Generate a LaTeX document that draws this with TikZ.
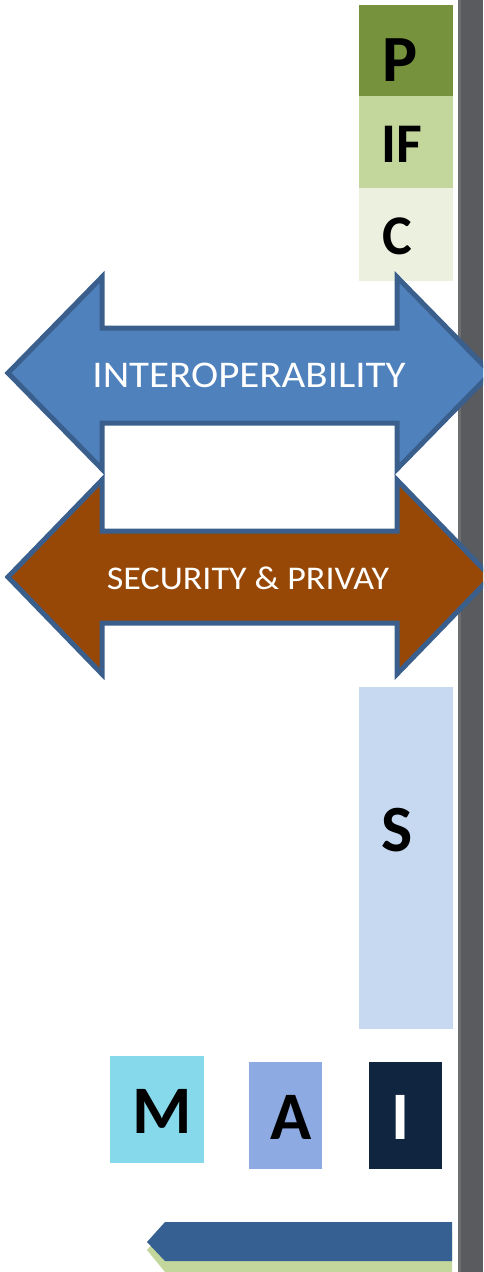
\documentclass[tikz,border=0pt]{standalone}
\usepackage{fontspec}
\setmainfont{Carlito}
\definecolor{pGreen}{HTML}{76923C}
\definecolor{ifGreen}{HTML}{C3D69B}
\definecolor{cGreen}{HTML}{EBF1DE}
\definecolor{sBlue}{HTML}{C6D9F1}
\definecolor{mCyan}{HTML}{86D9EA}
\definecolor{aBlue}{HTML}{8EAAE2}
\definecolor{iNavy}{HTML}{10253F}
\definecolor{arrowBlue}{HTML}{4F81BD}
\definecolor{arrowEdge}{HTML}{3A5F8D}
\definecolor{arrowBrown}{HTML}{974806}
\definecolor{tabBlue}{HTML}{366092}
\definecolor{barGray}{HTML}{595B5E}
\definecolor{barEdge}{HTML}{6C6E70}
\begin{document}
\begin{tikzpicture}[x=1pt,y=-1pt,
  box/.style={anchor=north west,inner sep=0pt,outer sep=0pt},
  letter/.style={anchor=base,inner sep=0pt,font=\fontsize{#1}{#1}\selectfont\bfseries},
  letter/.default=68,
  dblarrow/.style={line width=5pt,draw=arrowEdge,line join=miter},
  arrowtext/.style={text=white,inner sep=0pt,font=\fontsize{#1}{#1}\selectfont}]
\useasboundingbox (0,0) rectangle (483,1272);
\clip (0,0) rectangle (483,1272);

% page edge on the right
\fill[barGray] (458,0) rectangle (483,1272);
\fill[barEdge] (458,0) rectangle (461,1272);

% stacked layer boxes
\node[box,fill=pGreen,minimum width=94pt,minimum height=91pt] (P) at (359,5) {};
\node[box,fill=ifGreen,minimum width=94pt,minimum height=92pt] (IF) at (359,96) {};
\node[box,fill=cGreen,minimum width=94pt,minimum height=93pt] (C) at (359,188) {};
\node[letter=66] (Pt) at (400,81) {P};
\node[letter=56] (IFt) at (402,162) {IF};
\node[letter=56] (Ct) at (397,254) {C};

% interoperability double arrow
\draw[dblarrow,fill=arrowBlue] (8,373) -- (102,277) -- (102,328) -- (397,328)
  -- (397,277) -- (491,373) -- (397,469) -- (397,423) -- (102,423)
  -- (102,469) -- cycle;
\node[arrowtext=41] (interop) at (249,375) {\scalebox{1}[0.92]{INTEROPERABILITY}};

% security double arrow
\draw[dblarrow,fill=arrowBrown] (8,577) -- (102,480) -- (102,531) -- (397,531)
  -- (397,480) -- (491,577) -- (397,674) -- (397,623) -- (102,623)
  -- (102,674) -- cycle;
\node[arrowtext=36] (secpriv) at (248,578) {\scalebox{1}[0.92]{SECURITY \& PRIVAY}};

% tall S box
\node[box,fill=sBlue,minimum width=94pt,minimum height=342pt] (S) at (359,687) {};
\node[letter=66] (St) at (397,851) {S};

% bottom row of boxes
\node[box,fill=mCyan,minimum width=94pt,minimum height=107pt] (M) at (110,1056) {};
\node[box,fill=aBlue,minimum width=73pt,minimum height=107pt] (A) at (249,1062) {};
\node[box,fill=iNavy,minimum width=73pt,minimum height=107pt] (I) at (369,1062) {};
\node[letter=68] (Mt) at (162,1133) {M};
\node[letter=68] (At) at (291.5,1139) {A};
\node[letter=68,text=white] (It) at (400.5,1139) {I};

% tab with its shadow
\fill[ifGreen] (147,1250) -- (165,1230) -- (452,1230) -- (452,1272) -- (165,1272) -- cycle;
\fill[tabBlue] (147,1242) -- (165,1222) -- (452,1222) -- (452,1261) -- (165,1261) -- cycle;
\end{tikzpicture}
\end{document}
